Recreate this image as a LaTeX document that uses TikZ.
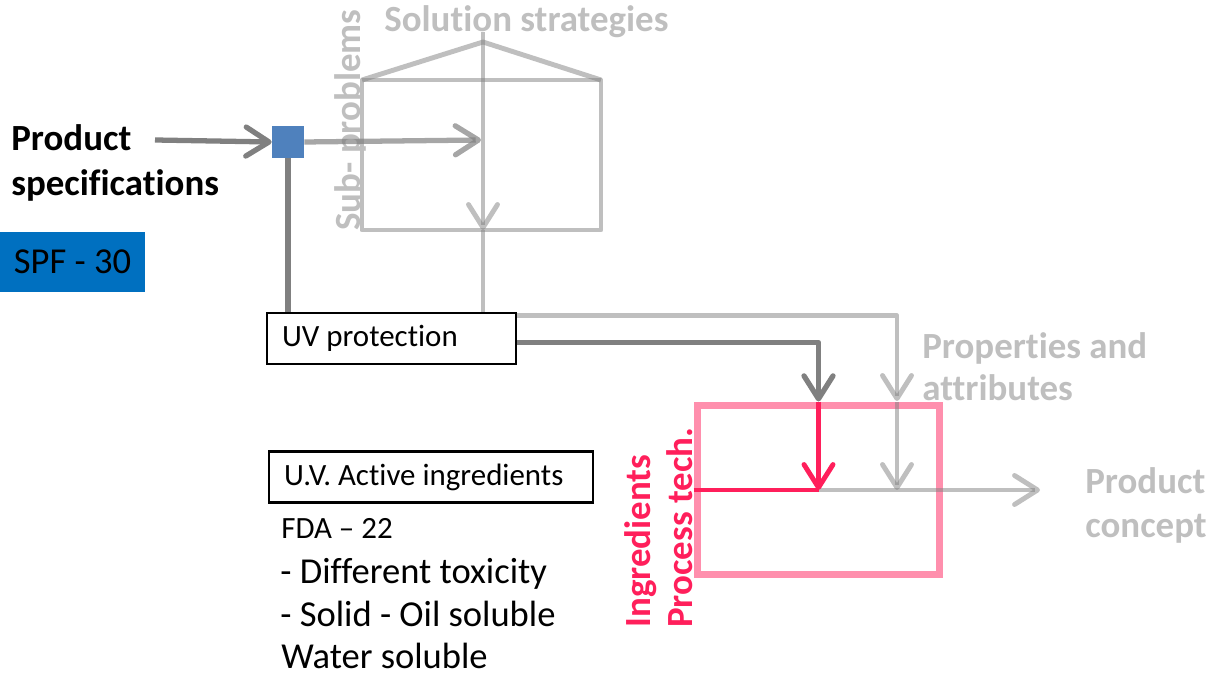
\documentclass[tikz,border=0pt]{standalone}
\usepackage{fontspec}
\setmainfont{Carlito}[Ligatures=NoCommon]
\usetikzlibrary{arrows.meta,positioning}
\definecolor{HubBlue}{RGB}{79,129,189}
\definecolor{SpfBlue}{RGB}{0,112,192}
\definecolor{LinkGray}{RGB}{128,128,128}
\definecolor{FadeGray}{RGB}{191,191,191}
\definecolor{IngrRed}{RGB}{255,31,91}
\tikzset{
    barb/.style={-{Straight Barb[length=4.6mm,width=5.8mm,round]}},
    darkline/.style={draw=LinkGray, line width=3pt, line join=round},
    fadeline/.style={draw=LinkGray, draw opacity=0.5, line width=2.8pt, line join=round},
    redline/.style={draw=IngrRed, line width=2.8pt, line join=round},
    textbox/.style={draw, line width=1.2pt, inner xsep=0.3cm, inner ysep=0, minimum height=1.02cm, align=flush left, anchor=west, font=\fontsize{17.6}{21}\selectfont},
    fadelabel/.style={text=FadeGray, inner sep=0, align=left, anchor=base west, font=\bfseries\fontsize{21}{25}\selectfont},
    redlabel/.style={text=IngrRed, inner sep=0, rotate=90, anchor=base west, font=\bfseries\fontsize{21}{25}\selectfont},
    listline/.style={inner sep=0, anchor=base west, font=\fontsize{20.8}{25}\selectfont},
}
\begin{document}
\begin{tikzpicture}[x=0.02cm, y=-0.02cm]
\useasboundingbox (0,0) rectangle (1214,675);

% left side: specification and hub
\node[inner sep=0, align=left, anchor=base west, font=\bfseries\fontsize{21}{26}\selectfont] (spec) at (11,196) {Product\\specifications};
\node[fill=SpfBlue, inner sep=0, minimum width=2.9cm, minimum height=1.2cm, font=\fontsize{20.8}{25}\selectfont] (spf) at (72.5,262) {SPF - 30};
\node[fill=HubBlue, minimum size=0.64cm, inner sep=0] (hub) at (288,142) {};
\coordinate (specout) at (155,140);
\coordinate (merge) at (481,140);

% boxes
\node[textbox, text width=4.38cm] (uv) at (266,338.5) {UV protection};
\node[textbox, text width=5.88cm] (uvai) at (268,477) {U.V. Active ingredients};
\node[listline, font=\fontsize{17.6}{21}\selectfont] (fda) at (281,539) {FDA -- 22};
\node[listline] (tox) at (280,583) {- Different toxicity};
\node[listline] (solid) at (280,626) {- Solid - Oil soluble};
\node[listline] (water) at (281,668) {Water soluble};

% house of sub-problems / solution strategies
\coordinate (roof) at (483,42);
\coordinate (housebot) at (483,230);
\draw[fadeline] (362,80) rectangle (601,230);
\draw[fadeline] (362,80) -- (roof) -- (601,80);
\draw[fadeline, barb] (483,32) -- (housebot);
\node[fadelabel] (solstrat) at (384,32) {Solution strategies};
\node[fadelabel, rotate=90] (subprob) at (360,231) {Sub- problems};

% concept box
\node[draw=IngrRed, draw opacity=0.5, line width=4pt, minimum width=4.86cm, minimum height=3.4cm, inner sep=0] (concbox) at (818.5,490) {};
\coordinate (attrin) at (897,401);
\coordinate (outtip) at (1040,490);
\node[fadelabel, font=\bfseries\fontsize{21}{24.4}\selectfont] (props) at (922,401) {Properties and\\attributes};
\node[fadelabel, font=\bfseries\fontsize{21}{25.5}\selectfont] (concept) at (1085,538) {Product\\concept};
\node[redlabel] (ingr) at (650,628) {Ingredients};
\node[redlabel] (proc) at (692,628) {Process tech.};

% connectors
\draw[darkline, barb] (specout) -- (hub.west);
\draw[darkline, draw opacity=0.7, barb] (hub.east) -- (merge);
\draw[darkline] (hub.south) -- (hub.south |- uv.north);
\draw[fadeline] (housebot) -- (housebot |- uv.north);
\draw[fadeline, barb] ([yshift=-0.08cm]uv.north east) -| (attrin);
\draw[fadeline, barb] (concbox.north -| attrin) -- (concbox.center -| attrin);
\draw[fadeline, barb] (concbox.center) -- (outtip);
\draw[darkline, barb] ([yshift=-0.08cm]uv.east) -| (concbox.north);
\draw[redline] (concbox.west) -- (concbox.center);
\draw[redline, barb] (concbox.north) -- (concbox.center);
\end{tikzpicture}
\end{document}
